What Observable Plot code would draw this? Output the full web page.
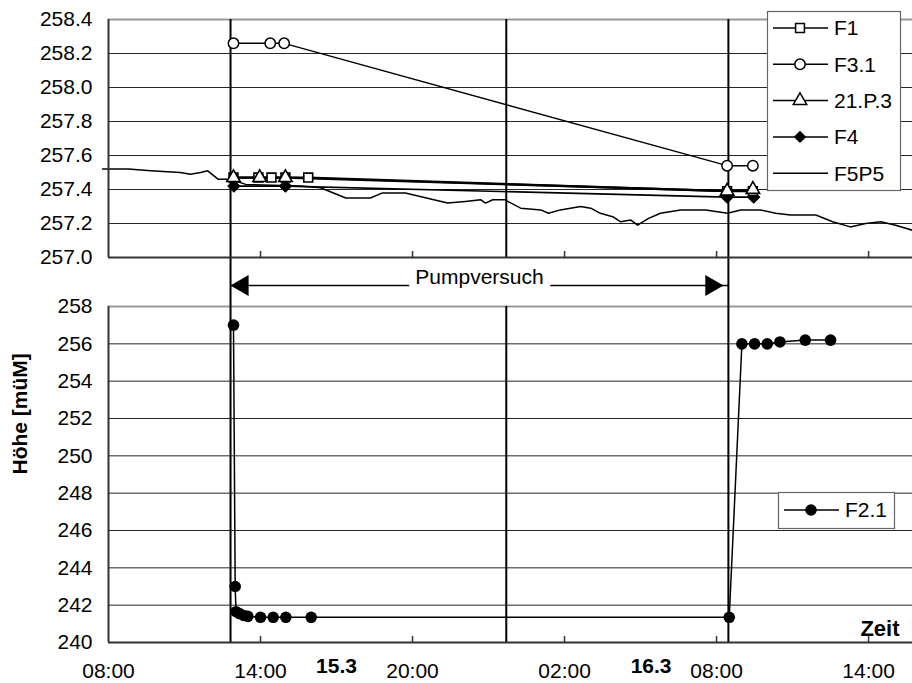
<!DOCTYPE html>
<html><head><meta charset="utf-8">
<script src="https://cdn.jsdelivr.net/npm/d3@7"></script>
<script src="https://cdn.jsdelivr.net/npm/@observablehq/plot@0.6"></script>
<style>
body{margin:0;background:#fff;}
#chart{position:relative;width:912px;height:683px;overflow:hidden;font-family:"Liberation Sans",Arial,sans-serif;}
#chart svg{position:absolute;left:0;}
</style></head><body><div id="chart"></div>
<script>
// ---------- data ----------
const xDomain = ["2000-03-15T08:00", "2000-03-16T15:44"];
const xTicks = ["2000-03-15T08:00","2000-03-15T14:00","2000-03-15T20:00","2000-03-16T02:00","2000-03-16T08:00","2000-03-16T14:00"];
const topYTicks = [257.0, 257.2, 257.4, 257.6, 257.8, 258.0, 258.2, 258.4];
const bottomYTicks = [240, 242, 244, 246, 248, 250, 252, 254, 256, 258];
const pumpLines = ["2000-03-15T12:49", "2000-03-16T08:28"];
const midLine = ["2000-03-15T23:42"];
const pumpLabel = "Pumpversuch";
const dayLabels = ["15.3", "16.3"];
const dayLabelTimes = ["2000-03-15T17:00", "2000-03-16T05:25"];

const f1Times = ["2000-03-15T12:56","2000-03-15T13:55","2000-03-15T14:26","2000-03-15T14:59","2000-03-15T15:53","2000-03-16T08:25","2000-03-16T09:26"];
const f1Values = [257.47,257.47,257.47,257.47,257.47,257.39,257.39];

const f31Times = ["2000-03-15T12:56","2000-03-15T14:23","2000-03-15T14:56","2000-03-16T08:25","2000-03-16T09:26"];
const f31Values = [258.26,258.26,258.26,257.54,257.54];

const p213Times = ["2000-03-15T12:56","2000-03-15T13:58","2000-03-15T14:59","2000-03-16T08:25","2000-03-16T09:26"];
const p213Values = [257.47,257.47,257.47,257.39,257.40];

const f4Times = ["2000-03-15T12:57","2000-03-15T14:59","2000-03-16T08:25","2000-03-16T09:28"];
const f4Values = [257.42,257.42,257.355,257.355];

const f5Times = ["2000-03-15T07:46","2000-03-15T08:47","2000-03-15T09:40","2000-03-15T10:50","2000-03-15T11:14","2000-03-15T11:38","2000-03-15T11:55","2000-03-15T12:20","2000-03-15T12:49","2000-03-15T13:25","2000-03-15T15:35","2000-03-15T16:22","2000-03-15T17:22","2000-03-15T17:52","2000-03-15T18:20","2000-03-15T18:49","2000-03-15T19:32","2000-03-15T19:43","2000-03-15T21:23","2000-03-15T22:05","2000-03-15T22:41","2000-03-15T22:53","2000-03-15T23:10","2000-03-15T23:38","2000-03-16T00:16","2000-03-16T01:04","2000-03-16T01:22","2000-03-16T01:50","2000-03-16T02:38","2000-03-16T03:02","2000-03-16T03:25","2000-03-16T03:54","2000-03-16T04:13","2000-03-16T04:37","2000-03-16T04:53","2000-03-16T05:19","2000-03-16T05:47","2000-03-16T06:35","2000-03-16T07:34","2000-03-16T08:26","2000-03-16T08:57","2000-03-16T09:44","2000-03-16T10:20","2000-03-16T10:55","2000-03-16T11:55","2000-03-16T12:35","2000-03-16T13:17","2000-03-16T13:53","2000-03-16T14:29","2000-03-16T15:04","2000-03-16T15:44"];
const f5Values = [257.52,257.52,257.51,257.50,257.49,257.50,257.51,257.46,257.46,257.43,257.42,257.41,257.35,257.35,257.35,257.38,257.38,257.38,257.32,257.33,257.34,257.32,257.34,257.34,257.29,257.28,257.26,257.28,257.30,257.29,257.26,257.24,257.21,257.22,257.19,257.23,257.26,257.28,257.28,257.26,257.28,257.28,257.26,257.25,257.25,257.21,257.18,257.20,257.21,257.19,257.16];

const f21Times = ["2000-03-15T12:56","2000-03-15T13:00","2000-03-15T13:02","2000-03-15T13:10","2000-03-15T13:20","2000-03-15T13:30","2000-03-15T14:00","2000-03-15T14:30","2000-03-15T15:00","2000-03-15T16:00","2000-03-16T08:30","2000-03-16T09:00","2000-03-16T09:30","2000-03-16T10:00","2000-03-16T10:30","2000-03-16T11:30","2000-03-16T12:30"];
const f21Values = [257.0,243.0,241.65,241.55,241.45,241.4,241.35,241.35,241.35,241.35,241.35,256.0,256.0,256.0,256.1,256.2,256.2];

// ---------- helpers ----------
const T = s => new Date(s + "Z");
const series = (times, values) => times.map((t, i) => ({t: T(t), v: values[i]}));
const F1 = series(f1Times, f1Values), F31 = series(f31Times, f31Values), P213 = series(p213Times, p213Values);
const F4 = series(f4Times, f4Values), F5 = series(f5Times, f5Values), F21 = series(f21Times, f21Values);

const W = 912, ML = 108;
const font = {fontFamily: '"Liberation Sans", Arial, sans-serif', fontSize: "21px", background: "transparent", overflow: "visible", color: "black"};
const xScale = {type: "utc", domain: xDomain.map(T), axis: null};
const AX = "#333";

// ---------- top panel ----------
const topH = 262, topMT = 19, topMB = 5;
const topInner = topH - topMT - topMB;
const topPlot = Plot.plot({
  width: W, height: topH, marginTop: topMT, marginBottom: topMB, marginLeft: ML, marginRight: 0,
  style: font,
  x: xScale,
  y: {domain: [topYTicks[0], topYTicks[topYTicks.length - 1]], axis: null},
  marks: [
    Plot.ruleY(topYTicks.slice(1, -1), {stroke: "#000", strokeWidth: 1, strokeOpacity: 0.85}),
    Plot.ruleY(topYTicks.slice(-1), {stroke: "#999", strokeWidth: 2}),
    Plot.ruleX(pumpLines.map(T), {stroke: "#000", strokeWidth: 2, insetBottom: -topMB}),
    Plot.ruleX(midLine.map(T), {stroke: "#000", strokeWidth: 2}),
    Plot.line(F5, {x: "t", y: "v", stroke: "#000", strokeWidth: 1.5}),
    Plot.line(F31, {x: "t", y: "v", stroke: "#000", strokeWidth: 1.4}),
    Plot.line(F4, {x: "t", y: "v", stroke: "#000", strokeWidth: 1.6}),
    Plot.line(F1, {x: "t", y: "v", stroke: "#000", strokeWidth: 2.2}),
    Plot.line(P213, {x: "t", y: "v", stroke: "#000", strokeWidth: 2.2}),
    Plot.dot(F31, {x: "t", y: "v", symbol: "circle", r: 5.2, fill: "white", stroke: "#000", strokeWidth: 1.5}),
    Plot.dot(F4, {x: "t", y: "v", symbol: "diamond2", r: 5.6, fill: "#000", stroke: "#000", strokeWidth: 1}),
    Plot.dot(F1, {x: "t", y: "v", symbol: "square", r: 5, fill: "white", stroke: "#000", strokeWidth: 1.6}),
    Plot.dot(P213, {x: "t", y: "v", symbol: "triangle", r: 5, fill: "white", stroke: "#000", strokeWidth: 1.6}),
    Plot.ruleX(xTicks.slice(1).map(T), {stroke: AX, strokeWidth: 1.5, insetTop: topInner - 6}),
    Plot.ruleY([topYTicks[0]], {stroke: AX, strokeWidth: 2}),
    Plot.ruleX([T(xDomain[0])], {stroke: AX, strokeWidth: 2}),
    Plot.axisY(topYTicks, {tickSize: 0, tickPadding: 16, tickFormat: d3.format(".1f"), stroke: null, label: null})
  ]
});
topPlot.style.top = "0px";

// ---------- bottom panel ----------
const botTop = 262, botH = 683 - botTop, botMT = 44, botMB = 41;
const yb = [bottomYTicks[0], bottomYTicks[bottomYTicks.length - 1]];
const pumpMid = new Date((T(pumpLines[0]).getTime() + T(pumpLines[1]).getTime()) / 2);
const botPlot = Plot.plot({
  width: W, height: botH, marginTop: botMT, marginBottom: botMB, marginLeft: ML, marginRight: 0,
  style: font,
  x: xScale,
  y: {domain: yb, axis: null},
  marks: [
    Plot.ruleY(bottomYTicks.slice(1, -1), {stroke: "#000", strokeWidth: 1, strokeOpacity: 0.85}),
    Plot.ruleY(bottomYTicks.slice(-1), {stroke: "#999", strokeWidth: 2}),
    Plot.ruleX(pumpLines.map(T), {stroke: "#000", strokeWidth: 2, insetTop: -botMT}),
    Plot.ruleX(midLine.map(T), {stroke: "#000", strokeWidth: 2}),
    // Pumpversuch arrow
    Plot.ruleY([yb[1]], {x1: T(pumpLines[0]), x2: T(pumpLines[1]), dy: -21, stroke: "#000", strokeWidth: 1.5}),
    Plot.dot([T(pumpLines[0])], {x: d => d, frameAnchor: "top", dy: -21, dx: 12, symbol: "triangle", rotate: -90, r: 7.8, fill: "#000", stroke: "none"}),
    Plot.dot([T(pumpLines[1])], {x: d => d, frameAnchor: "top", dy: -21, dx: -17, symbol: "triangle", rotate: 90, r: 7.8, fill: "#000", stroke: "none"}),
    Plot.text([pumpLabel], {x: () => pumpMid, text: d => d, frameAnchor: "top", dy: -23, lineAnchor: "bottom", fill: "#000", stroke: "white", strokeWidth: 16, strokeLinejoin: "round"}),
    // data
    Plot.line(F21, {x: "t", y: "v", stroke: "#000", strokeWidth: 1.5}),
    Plot.dot(F21, {x: "t", y: "v", symbol: "circle", r: 5.8, fill: "#000", stroke: "none"}),
    // axes
    Plot.ruleX(xTicks.slice(1).map(T), {stroke: AX, strokeWidth: 1.5, insetTop: (botH - botMT - botMB) - 6}),
    Plot.ruleY([yb[0]], {stroke: AX, strokeWidth: 2}),
    Plot.ruleX([T(xDomain[0])], {stroke: AX, strokeWidth: 2}),
    Plot.axisY(bottomYTicks, {tickSize: 0, tickPadding: 16, stroke: null, label: null}),
    Plot.axisX(xTicks.map(T), {tickSize: 0, tickPadding: 21, tickFormat: d3.utcFormat("%H:%M"), stroke: null, label: null}),
    Plot.text(dayLabels, {x: (d, i) => T(dayLabelTimes[i]), text: d => d, frameAnchor: "bottom", dy: 24, lineAnchor: "middle", fontWeight: "bold"}),
    Plot.text(["Zeit"], {text: d => d, frameAnchor: "bottom-right", textAnchor: "end", lineAnchor: "bottom", dx: -13, dy: -7, fontWeight: "bold", fontSize: 22}),
    Plot.text(["Höhe [müM]"], {text: d => d, frameAnchor: "left", rotate: -90, dx: -88, lineAnchor: "middle", fontWeight: "bold"})
  ]
});
botPlot.style.top = botTop + "px";

const chart = document.getElementById("chart");
chart.appendChild(topPlot);
chart.appendChild(botPlot);

// ---------- legends ----------
const legendTop = [
  {name: "F1", symbol: d3.symbolSquare, r: 5, fill: "white"},
  {name: "F3.1", symbol: d3.symbolCircle, r: 5.2, fill: "white"},
  {name: "21.P.3", symbol: d3.symbolTriangle, r: 5, fill: "white"},
  {name: "F4", symbol: d3.symbolDiamond2, r: 5.6, fill: "#000"},
  {name: "F5P5", symbol: null}
];
const leg = d3.create("svg").attr("width", W).attr("height", 683)
  .style("top", "0px").style("pointer-events", "none")
  .attr("font-family", '"Liberation Sans", Arial, sans-serif').attr("font-size", 21);
function legendBox(g, x, y, w, h, items, y0, step) {
  g.append("rect").attr("x", x + 0.5).attr("y", y + 0.5).attr("width", w).attr("height", h)
    .attr("fill", "white").attr("stroke", "#666").attr("stroke-width", 1.2);
  items.forEach((it, i) => {
    const cy = y0 + i * step;
    g.append("line").attr("x1", x + 6).attr("x2", x + 61).attr("y1", cy).attr("y2", cy).attr("stroke", "#000").attr("stroke-width", 1.5);
    if (it.symbol) g.append("path").attr("d", d3.symbol(it.symbol, it.r * it.r * Math.PI)())
      .attr("transform", `translate(${x + 33},${cy})`).attr("fill", it.fill)
      .attr("stroke", it.fill === "white" ? "#000" : "none").attr("stroke-width", 1.5);
    g.append("text").attr("x", x + 67).attr("y", cy).attr("dy", "0.35em").text(it.name);
  });
}
legendBox(leg, 767, 11, 133, 179, legendTop, 28, 36.3);
legendBox(leg, 778, 492, 116, 36, [{name: "F2.1", symbol: d3.symbolCircle, r: 5.8, fill: "#000"}], 510, 0);
chart.appendChild(leg.node());
</script></body></html>
